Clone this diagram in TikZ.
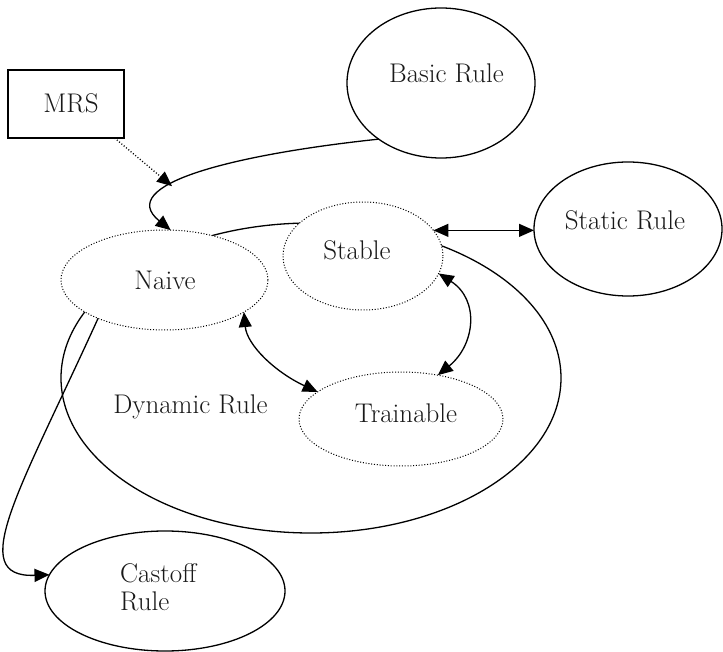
\documentclass[tikz,border=0pt]{standalone}
\usetikzlibrary{shapes.geometric,arrows.meta}
\begin{document}
\begin{tikzpicture}[x=1pt,y=-1pt,
  solidell/.style={ellipse,draw,line width=1.3pt,fill=white,inner sep=0pt,outer sep=0pt},
  dotell/.style={ellipse,draw,line width=1pt,dash pattern=on 1pt off 1.8pt,fill=white,inner sep=0pt,outer sep=0pt},
  lbl/.style={font=\fontsize{27}{30}\selectfont,anchor=base,inner sep=0pt,text=black!90},
  conn/.style={line width=1.3pt},
  tip/.style={-{Triangle[length=15pt,width=13pt]}},
  dtip/.style={{Triangle[length=15pt,width=13pt]}-{Triangle[length=15pt,width=13pt]}},
]
\useasboundingbox (0,0) rectangle (723,652);

% containers and states
\node[solidell,minimum width=500pt,minimum height=310pt] (dyn) at (311,378) {};
\node[dotell,minimum width=207pt,minimum height=100pt] (naive) at (164.5,280) {};
\node[dotell,minimum width=160pt,minimum height=108pt] (stable) at (363,256) {};
\node[dotell,minimum width=204pt,minimum height=94pt] (train) at (401,419) {};
\node[solidell,minimum width=188pt,minimum height=150pt] (basic) at (441,83) {};
\node[solidell,minimum width=188pt,minimum height=134pt] (static) at (628,229) {};
\node[solidell,minimum width=240pt,minimum height=120pt] (castoff) at (165,591) {};
\node[draw,line width=1.3pt,minimum width=116pt,minimum height=68pt,inner sep=0pt,outer sep=0pt] (mrs) at (66,104) {};

% labels
\node[lbl] (tmrs) at (71,113) {MRS};
\node[lbl] (tbasic) at (446.5,83) {Basic Rule};
\node[lbl] (tstatic) at (625,230) {Static Rule};
\node[lbl] (tstable) at (357,260) {Stable};
\node[lbl] (tnaive) at (165,290) {Naive};
\node[lbl] (tdyn) at (190.5,413) {Dynamic Rule};
\node[lbl] (ttrain) at (406,422.7) {Trainable};
\node[lbl,anchor=base west] (tcast1) at (120,582.7) {Castoff};
\node[lbl,anchor=base west] (tcast2) at (120,610.7) {Rule};

% connectors
\draw[conn,tip] (basic.222) .. controls (230,155) and (115,185) .. coordinate[pos=0.63] (j) (naive.83);
\draw[conn,dash pattern=on 1pt off 2pt,tip] (mrs.-35) -- (j);
\draw[conn,tip] (naive.210) .. controls (20,490) and (-35,578) .. (castoff.172);
\draw[conn,dtip] (naive.-22) .. controls (247,345) and (275,372) .. (train.162);
\draw[conn,dtip] (stable.-13) .. controls (480,300) and (475,345) .. (train.50);
\draw[conn,dtip] (stable.20) -- (stable.20 -| static.west);
\end{tikzpicture}
\end{document}
